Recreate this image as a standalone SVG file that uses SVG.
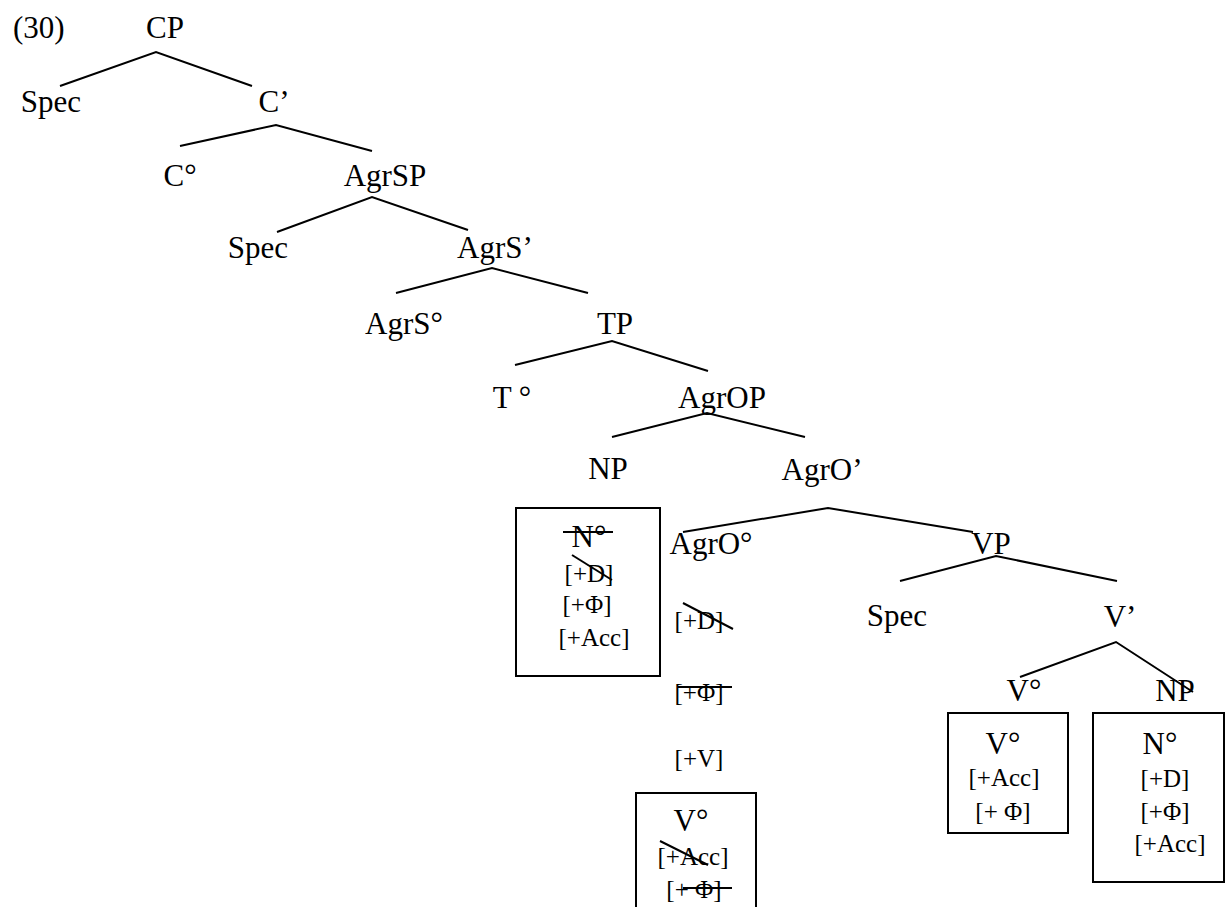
<svg xmlns="http://www.w3.org/2000/svg" width="1226" height="907" viewBox="0 0 1226 907">
<style>
text{font-family:"Liberation Serif","Times New Roman",serif;fill:#000;text-anchor:middle}
.l{font-size:31px}
.f{font-size:25px}
line,polyline{stroke:#000;stroke-width:2;fill:none}
rect.b{fill:none;stroke:#000;stroke-width:2}
</style>
<rect width="1226" height="907" fill="#fff"/>
<g id="connectors">
<polyline points="60,86 156,52 252,86"/>
<polyline points="180,146 276,125 372,151"/>
<polyline points="277,232 372,197 468,230"/>
<polyline points="396,293 492,268 588,293"/>
<polyline points="515,365 612,341 708,371"/>
<polyline points="612,437 707,413 805,437"/>
<polyline points="683,532 828,508 973,532"/>
<polyline points="900,581 996,556 1117,581"/>
<polyline points="1020,677 1116,642 1193,692"/>
</g>
<g id="label"><text class="l" x="13" y="38" style="text-anchor:start">(30)</text></g>
<g id="CP"><text class="l" x="165" y="38">CP</text></g>
<g id="Spec1"><text class="l" x="51" y="112">Spec</text></g>
<g id="Cbar"><text class="l" x="274" y="112">C’</text></g>
<g id="C0"><text class="l" x="180" y="186">C°</text></g>
<g id="AgrSP"><text class="l" x="385" y="186">AgrSP</text></g>
<g id="Spec2"><text class="l" x="258" y="258">Spec</text></g>
<g id="AgrSbar"><text class="l" x="495" y="258">AgrS’</text></g>
<g id="AgrS0"><text class="l" x="404" y="334">AgrS°</text></g>
<g id="TP"><text class="l" x="615" y="334">TP</text></g>
<g id="T0"><text class="l" x="512" y="408">T °</text></g>
<g id="AgrOP"><text class="l" x="722" y="408">AgrOP</text></g>
<g id="NP1"><text class="l" x="608" y="479">NP</text></g>
<g id="AgrObar"><text class="l" x="822" y="480">AgrO’</text></g>
<g id="NPbox">
<rect class="b" x="516" y="508" width="144" height="168"/>
<text class="l" x="589" y="547">N°</text>
<line x1="563" y1="532" x2="613" y2="532"/>
<text class="f" x="589" y="582">[+D]</text>
<line x1="572" y1="555" x2="612" y2="580"/>
<text class="f" x="587" y="613">[+Φ]</text>
<text class="f" x="594" y="646">[+Acc]</text>
</g>
<g id="AgrO0">
<text class="l" x="711" y="554">AgrO°</text>
<text class="f" x="699" y="629">[+D]</text>
<line x1="683" y1="603" x2="733" y2="629"/>
<text class="f" x="699" y="701">[+Φ]</text>
<line x1="678" y1="687" x2="732" y2="687"/>
<text class="f" x="699" y="767">[+V]</text>
</g>
<g id="V0box1">
<rect class="b" x="636" y="793" width="120" height="140"/>
<text class="l" x="691" y="831">V°</text>
<text class="f" x="693" y="865">[+Acc]</text>
<line x1="660" y1="841" x2="708" y2="865"/>
<text class="f" x="694" y="898">[+ Φ]</text>
<line x1="683" y1="888" x2="732" y2="888"/>
</g>
<g id="VP"><text class="l" x="991" y="554">VP</text></g>
<g id="Spec3"><text class="l" x="897" y="626">Spec</text></g>
<g id="Vbar"><text class="l" x="1120" y="627">V’</text></g>
<g id="V0"><text class="l" x="1024" y="701">V°</text></g>
<g id="NP2"><text class="l" x="1175" y="701">NP</text></g>
<g id="V0box2">
<rect class="b" x="948" y="713" width="120" height="120"/>
<text class="l" x="1003" y="754">V°</text>
<text class="f" x="1004" y="786">[+Acc]</text>
<text class="f" x="1003" y="820">[+ Φ]</text>
</g>
<g id="NPbox2">
<rect class="b" x="1093" y="713" width="131" height="169"/>
<text class="l" x="1160" y="754">N°</text>
<text class="f" x="1165" y="787">[+D]</text>
<text class="f" x="1165" y="820">[+Φ]</text>
<text class="f" x="1170" y="852">[+Acc]</text>
</g>
</svg>
